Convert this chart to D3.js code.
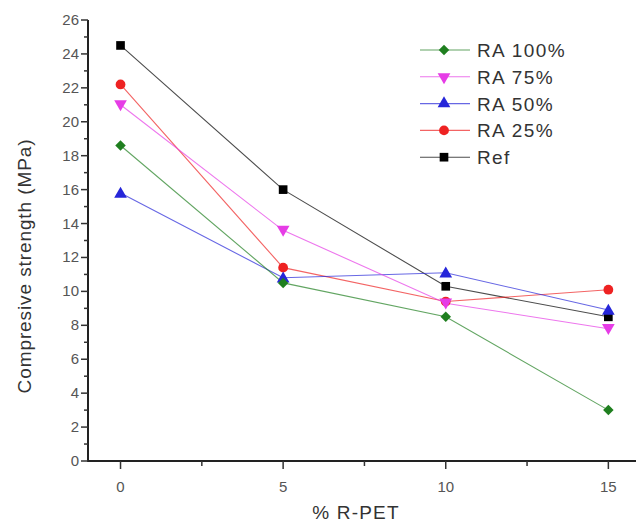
<!DOCTYPE html>
<html><head><meta charset="utf-8">
<script src="https://cdn.jsdelivr.net/npm/d3@7"></script>
<style>body{margin:0;background:#fff}svg{display:block}text{font-family:Arial,"Liberation Sans",sans-serif}</style>
</head><body><svg id="c" width="639" height="523"></svg>
<script>
const xValues = [0, 5, 10, 15];
const xTicks = [0, 5, 10, 15];
const yTicks = [0, 2, 4, 6, 8, 10, 12, 14, 16, 18, 20, 22, 24, 26];
const seriesNames = ["RA 100%", "RA 75%", "RA 50%", "RA 25%", "Ref"];
const ra100 = [18.6, 10.5, 8.5, 3.0];
const ra75 = [21.0, 13.6, 9.3, 7.8];
const ra50 = [15.8, 10.8, 11.1, 8.9];
const ra25 = [22.2, 11.4, 9.4, 10.1];
const ref = [24.5, 16.0, 10.3, 8.5];
const colors = ["#1f7f1f", "#e63ce6", "#2626d9", "#ee2222", "#000000"];
const symbols = [d3.symbolSquare, d3.symbolTriangle, d3.symbolTriangle, d3.symbolCircle, d3.symbolSquare];
const rotations = [45, 180, 0, 0, 0];
const sizes = [55, 70, 70, 75, 75];
const values = [ra100, ra75, ra50, ra25, ref];

const svg = d3.select("#c");
const x = d3.scaleLinear().domain([-1, 15.85]).range([88, 636]);
const y = d3.scaleLinear().domain([0, 26]).range([461, 20]);

// axes
const gx = svg.append("g").attr("transform", `translate(0,${y(0)})`);
gx.append("line").attr("x1", x(-1)).attr("x2", x(15.85)).attr("stroke", "#222").attr("stroke-width", 2);
const minorX = d3.range(0, 15.1, 2.5);
gx.selectAll(".mx").data(minorX).join("line").attr("x1", d => x(d)).attr("x2", d => x(d))
  .attr("y1", 0).attr("y2", d => d % 5 === 0 ? 8 : 5).attr("stroke", "#333").attr("stroke-width", 1.5);
gx.selectAll(".tx").data(xTicks).join("text").attr("x", d => x(d)).attr("y", 31)
  .attr("text-anchor", "middle").attr("font-size", 15).attr("fill", "#555").text(d => d);

const gy = svg.append("g").attr("transform", `translate(${x(-1)},0)`);
gy.append("line").attr("y1", y(0) + 1).attr("y2", y(26)).attr("stroke", "#222").attr("stroke-width", 2);
gy.selectAll(".my").data(d3.range(0, 26.1, 1)).join("line").attr("y1", d => y(d)).attr("y2", d => y(d))
  .attr("x1", d => d % 2 === 0 ? -7 : -4).attr("x2", 0).attr("stroke", "#333").attr("stroke-width", 1.5);
gy.selectAll(".ty").data(yTicks).join("text").attr("x", -9).attr("y", d => y(d) + 5)
  .attr("text-anchor", "end").attr("font-size", 15).attr("fill", "#555").text(d => d);

// titles
svg.append("text").attr("x", 356).attr("y", 519).attr("text-anchor", "middle")
  .attr("font-size", 19).attr("letter-spacing", 1.2).attr("fill", "#333").text("% R-PET");
svg.append("text").attr("transform", `translate(31,266) rotate(-90)`).attr("text-anchor", "middle")
  .attr("font-size", 19).attr("letter-spacing", 0.9).attr("fill", "#333").text("Compresive strength (MPa)");

// series (draw Ref first so RA series on top)
const line = d3.line().x((d, i) => x(xValues[i])).y(d => y(d));
const order = [4, 3, 2, 1, 0];
order.forEach(k => {
  svg.append("path").datum(values[k]).attr("d", line).attr("fill", "none")
    .attr("stroke", colors[k]).attr("stroke-width", 1.1).attr("stroke-opacity", 0.7);
});
order.forEach(k => {
  svg.append("g").selectAll("path").data(values[k]).join("path")
    .attr("d", d3.symbol().type(symbols[k]).size(sizes[k]))
    .attr("transform", (d, i) => `translate(${x(xValues[i])},${y(d) + (k === 1 ? -1 : k === 2 ? 1 : 0)}) rotate(${rotations[k]})`)
    .attr("fill", colors[k]);
});

// legend
const lg = svg.append("g");
seriesNames.forEach((name, k) => {
  const yy = 50 + k * 26.8;
  lg.append("line").attr("x1", 420).attr("x2", 470).attr("y1", yy).attr("y2", yy)
    .attr("stroke", colors[k]).attr("stroke-width", 1.1).attr("stroke-opacity", 0.7);
  lg.append("path").attr("d", d3.symbol().type(symbols[k]).size(sizes[k]))
    .attr("transform", `translate(444,${yy}) rotate(${rotations[k]})`).attr("fill", colors[k]);
  lg.append("text").attr("x", 477).attr("y", yy + 7).attr("font-size", 19).attr("letter-spacing", 1.4)
    .attr("fill", "#333").text(name);
});
</script></body></html>
